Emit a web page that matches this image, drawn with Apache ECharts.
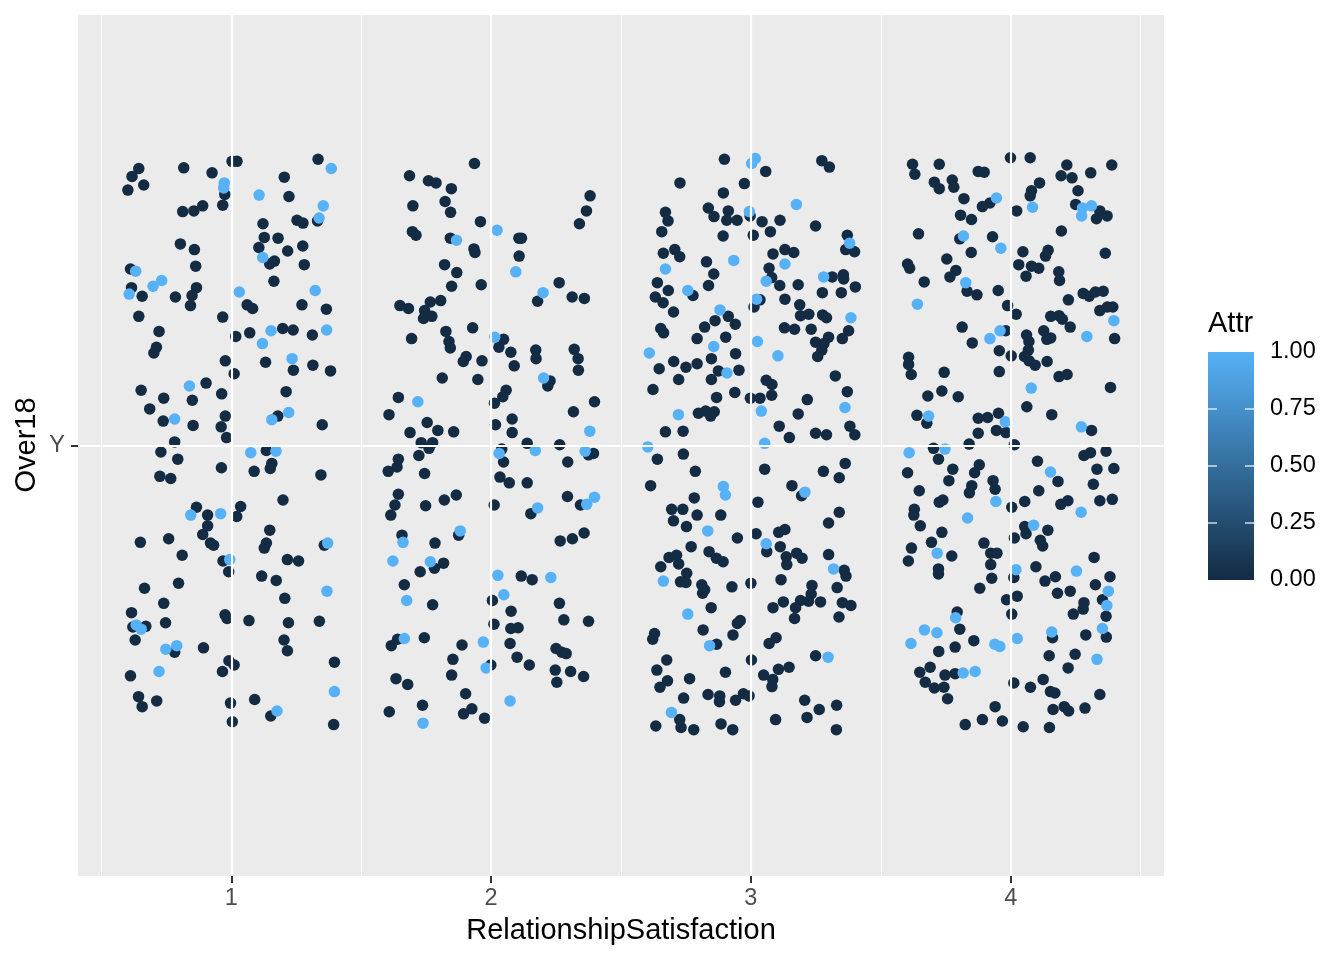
<!DOCTYPE html>
<html><head><meta charset="utf-8">
<script src="https://cdn.jsdelivr.net/npm/echarts@6/dist/echarts.min.js"></script>
<style>html,body{margin:0;padding:0;background:#fff}#chart{width:1344px;height:960px}</style>
</head><body><div id="chart"></div>
<script>
// ---- axes / labels ----
const xTicks = [1, 2, 3, 4];
const xMinorBreaks = [0.5, 1.5, 2.5, 3.5, 4.5];
const yLevel = 'Y';
const xTitle = 'RelationshipSatisfaction';
const yTitle = 'Over18';
const legendTitle = 'Attr';
const legendTicks = [0, 0.25, 0.5, 0.75, 1];

// ---- jittered points [x, y] ----
const rs1Stayed = [[0.644,1.386],[0.618,1.375],[0.663,1.363],[0.602,1.356],[0.817,1.387],[0.926,1.380],[1.003,1.396],[1.022,1.396],[1.334,1.399],[1.204,1.374],[0.975,1.350],[0.967,1.335],[0.813,1.326],[0.856,1.327],[0.890,1.334],[1.222,1.347],[1.253,1.314],[1.276,1.310],[1.332,1.313],[1.122,1.309],[1.127,1.290],[1.180,1.289],[1.106,1.276],[1.217,1.271],[1.275,1.278],[1.148,1.253],[1.166,1.257],[1.281,1.252],[1.164,1.229],[0.804,1.281],[0.858,1.273],[0.863,1.250],[0.612,1.246],[0.616,1.220],[0.657,1.208],[0.785,1.207],[0.866,1.220],[0.849,1.209],[0.843,1.195],[0.644,1.180],[0.967,1.179],[1.061,1.196],[1.082,1.191],[1.272,1.196],[1.366,1.190],[0.722,1.159],[0.712,1.137],[0.702,1.129],[1.017,1.152],[1.071,1.157],[1.198,1.163],[1.238,1.161],[1.312,1.154],[0.977,1.118],[1.011,1.100],[1.132,1.116],[1.239,1.105],[1.314,1.112],[1.382,1.104],[0.653,1.077],[0.740,1.066],[0.686,1.051],[0.903,1.087],[0.850,1.063],[0.963,1.072],[1.211,1.075],[0.738,1.034],[0.853,1.028],[0.977,1.041],[0.961,1.026],[0.982,1.011],[0.782,1.005],[1.179,1.041],[1.350,1.029],
[0.729,0.991],[0.794,0.981],[1.135,0.993],[1.156,0.975],[1.150,0.968],[0.962,0.969],[1.088,0.964],[0.725,0.957],[0.767,0.954],[1.345,0.959],[1.199,0.924],[0.866,0.914],[0.909,0.903],[1.036,0.915],[1.021,0.901],[0.909,0.888],[0.890,0.876],[0.920,0.864],[0.932,0.861],[1.148,0.882],[1.135,0.864],[1.127,0.857],[0.650,0.865],[0.759,0.870],[0.811,0.847],[1.358,0.861],[0.968,0.839],[0.990,0.824],[1.216,0.841],[1.259,0.839],[1.117,0.818],[1.173,0.812],[0.666,0.801],[0.797,0.808],[1.206,0.787],[0.740,0.780],[0.616,0.767],[0.621,0.747],[0.671,0.748],[0.747,0.753],[0.976,0.764],[0.984,0.759],[1.068,0.756],[1.220,0.753],[1.339,0.755],[0.630,0.729],[1.203,0.729],[1.216,0.714],[0.782,0.712],[0.893,0.718],[0.991,0.700],[1.011,0.694],[0.966,0.685],[1.397,0.698],[0.612,0.679],[0.643,0.650],[0.657,0.636],[0.713,0.644],[0.997,0.641],[1.090,0.646],[1.152,0.623],[1.004,0.615],[1.394,0.611]];
const rs1Left = [[1.385,1.386],[0.973,1.366],[0.971,1.359],[1.107,1.349],[1.354,1.334],[1.338,1.317],[1.121,1.262],[0.632,1.243],[0.607,1.211],[0.699,1.222],[0.732,1.230],[1.031,1.214],[1.323,1.216],[1.153,1.160],[1.120,1.142],[1.367,1.161],[1.234,1.121],[0.839,1.083],[0.782,1.037],[1.156,1.036],[1.221,1.046],
[1.075,0.990],[1.172,0.992],[0.844,0.903],[0.959,0.905],[1.371,0.864],[0.994,0.841],[1.368,0.797],[0.634,0.750],[0.653,0.744],[0.748,0.716],[0.790,0.721],[0.722,0.685],[1.397,0.657],[1.176,0.630]];

const rs2Stayed = [[1.936,1.393],[1.686,1.376],[1.759,1.369],[1.788,1.366],[1.847,1.358],[1.699,1.334],[1.823,1.340],[1.844,1.325],[1.959,1.312],[2.381,1.348],[2.367,1.327],[2.340,1.309],[1.697,1.298],[1.711,1.293],[1.843,1.289],[1.934,1.274],[1.938,1.269],[2.107,1.289],[2.117,1.289],[2.108,1.264],[1.821,1.252],[1.868,1.241],[1.848,1.222],[1.962,1.224],[2.262,1.227],[2.179,1.201],[2.312,1.207],[2.359,1.205],[1.649,1.195],[1.682,1.191],[1.766,1.200],[1.806,1.202],[1.744,1.188],[1.740,1.177],[1.772,1.180],[1.694,1.149],[1.826,1.159],[1.929,1.164],[1.838,1.145],[1.843,1.136],[2.048,1.148],[2.030,1.137],[2.076,1.130],[2.172,1.133],[2.173,1.121],[2.320,1.134],[2.335,1.121],[2.336,1.105],[1.904,1.124],[1.893,1.117],[1.965,1.118],[2.089,1.111],[1.812,1.094],[1.949,1.092],[2.227,1.090],[2.218,1.083],[2.058,1.077],[2.045,1.068],[2.013,1.059],[1.643,1.067],[1.607,1.043],[2.398,1.061],[2.317,1.047],[1.754,1.032],[1.795,1.021],[1.688,1.018],[1.856,1.019],[2.017,1.029],[2.081,1.037],[2.081,1.018],
[1.731,1.004],[1.775,1.004],[1.761,0.996],[1.722,0.986],[1.643,0.981],[1.638,0.970],[1.604,0.964],[1.744,0.961],[2.041,0.995],[2.048,0.977],[2.139,1.003],[2.264,1.001],[2.295,0.977],[2.375,0.987],[2.394,0.989],[2.034,0.956],[2.070,0.948],[2.139,0.948],[1.643,0.932],[1.630,0.917],[1.614,0.903],[1.748,0.916],[1.820,0.924],[1.866,0.931],[2.012,0.917],[2.153,0.905],[2.294,0.929],[2.344,0.917],[1.657,0.875],[1.784,0.864],[1.875,0.875],[2.266,0.867],[2.313,0.870],[2.358,0.878],[1.727,0.824],[1.782,0.829],[1.817,0.836],[1.666,0.806],[1.775,0.778],[2.116,0.818],[2.158,0.813],[2.005,0.784],[2.077,0.769],[2.263,0.780],[2.011,0.751],[2.076,0.745],[2.104,0.746],[2.280,0.757],[2.375,0.755],[1.640,0.730],[1.616,0.721],[1.743,0.732],[1.888,0.722],[2.073,0.724],[1.853,0.702],[1.848,0.680],[1.999,0.694],[2.100,0.705],[2.147,0.694],[2.250,0.717],[2.272,0.712],[2.289,0.710],[2.247,0.687],[2.306,0.685],[2.356,0.678],[2.253,0.670],[1.634,0.675],[1.679,0.667],[1.902,0.654],[1.736,0.638],[1.608,0.629],[1.894,0.626],[1.926,0.633],[1.975,0.620]];
const rs2Left = [[2.023,1.300],[1.867,1.286],[2.095,1.242],[2.200,1.213],[2.014,1.151],[2.202,1.094],[1.718,1.061],[2.380,1.020],
[2.031,0.989],[2.170,0.993],[2.362,0.992],[2.179,0.913],[2.398,0.928],[2.368,0.918],[1.661,0.865],[1.881,0.881],[1.622,0.839],[1.766,0.838],[1.675,0.784],[2.026,0.819],[2.230,0.816],[2.049,0.792],[1.666,0.731],[1.970,0.726],[1.981,0.690],[1.738,0.613],[2.073,0.644]];

const rs3Stayed = [[2.898,1.399],[3.057,1.382],[3.273,1.397],[3.302,1.388],[2.727,1.366],[2.975,1.365],[2.894,1.352],[2.671,1.325],[2.681,1.313],[2.657,1.298],[2.836,1.331],[2.858,1.319],[2.913,1.327],[2.907,1.314],[2.947,1.314],[2.997,1.320],[3.043,1.312],[3.112,1.314],[2.893,1.292],[3.009,1.293],[3.075,1.298],[3.249,1.306],[3.371,1.293],[3.365,1.273],[3.399,1.270],[2.663,1.268],[2.707,1.273],[2.726,1.263],[2.829,1.256],[2.857,1.239],[2.837,1.223],[3.085,1.267],[3.131,1.273],[3.165,1.269],[3.070,1.247],[3.080,1.234],[3.111,1.223],[3.182,1.224],[3.313,1.235],[3.356,1.238],[3.357,1.232],[3.402,1.221],[3.275,1.213],[3.348,1.213],[2.640,1.227],[2.682,1.216],[2.777,1.209],[2.632,1.207],[2.662,1.199],[2.702,1.186],[3.035,1.203],[3.012,1.193],[3.131,1.204],[3.188,1.196],[3.191,1.181],[3.223,1.183],[3.276,1.182],[3.291,1.178],[3.376,1.160],[2.913,1.180],[2.940,1.169],[2.862,1.174],[2.822,1.165],[2.653,1.163],[2.664,1.157],[2.793,1.149],[2.903,1.151],[3.129,1.164],[3.168,1.162],[3.232,1.162],[3.299,1.151],[3.249,1.144],[3.281,1.142],[3.273,1.133],[3.257,1.124],[3.352,1.149],[2.647,1.107],[2.703,1.117],[2.750,1.109],[2.793,1.114],[2.848,1.121],[2.941,1.128],[2.875,1.104],[2.954,1.105],[2.848,1.092],[2.722,1.092],[2.623,1.078],[2.868,1.067],[2.938,1.074],[2.998,1.066],[3.035,1.066],[3.059,1.091],[3.081,1.085],[3.080,1.070],[3.325,1.097],[3.371,1.075],[3.217,1.064],[3.182,1.044],[2.798,1.045],[2.826,1.048],[2.859,1.047],[2.845,1.041],[3.109,1.027],[2.671,1.019],[2.739,1.020],[3.381,1.027],[3.400,1.015],[3.148,1.011],[3.249,1.017],[3.291,1.015],
[2.640,0.981],[2.740,0.988],[2.786,0.964],[2.614,0.944],[3.053,0.967],[3.279,0.964],[3.363,0.975],[3.340,0.955],[3.158,0.944],[3.195,0.930],[2.782,0.927],[3.027,0.921],[2.695,0.911],[2.738,0.911],[2.702,0.895],[2.793,0.903],[2.884,0.903],[2.752,0.887],[3.340,0.907],[3.299,0.892],[2.948,0.871],[3.020,0.877],[3.107,0.879],[3.131,0.883],[3.061,0.852],[3.113,0.859],[2.770,0.859],[2.685,0.844],[2.714,0.847],[2.722,0.835],[2.653,0.831],[2.839,0.852],[2.867,0.843],[2.893,0.838],[3.136,0.845],[3.176,0.850],[3.197,0.843],[3.138,0.834],[3.299,0.848],[3.359,0.826],[3.366,0.818],[2.729,0.810],[2.753,0.822],[2.750,0.809],[2.811,0.806],[2.822,0.799],[2.814,0.794],[2.927,0.803],[3.000,0.808],[3.116,0.813],[3.235,0.805],[3.232,0.793],[3.332,0.802],[3.085,0.774],[3.125,0.782],[3.191,0.784],[3.172,0.774],[3.168,0.759],[3.222,0.783],[3.268,0.782],[3.352,0.781],[3.385,0.777],[3.339,0.761],[2.847,0.774],[2.629,0.738],[2.622,0.730],[2.816,0.743],[2.948,0.752],[2.959,0.756],[2.931,0.736],[2.868,0.723],[3.070,0.724],[3.097,0.732],[3.249,0.707],[2.676,0.701],[2.638,0.687],[2.679,0.672],[2.650,0.663],[2.764,0.675],[2.902,0.684],[3.002,0.701],[3.049,0.680],[3.084,0.674],[3.081,0.664],[3.106,0.688],[3.147,0.691],[2.835,0.653],[2.880,0.651],[2.879,0.643],[2.941,0.645],[2.971,0.654],[2.993,0.651],[2.741,0.648],[2.726,0.618],[2.731,0.607],[2.634,0.609],[2.780,0.604],[2.885,0.612],[2.930,0.604],[3.095,0.618],[3.207,0.645],[3.263,0.632],[3.216,0.621],[3.330,0.638],[3.329,0.604]];
const rs3Left = [[3.017,1.400],[3.003,1.393],[3.175,1.336],[2.994,1.326],[3.380,1.282],[2.671,1.246],[2.934,1.258],[3.131,1.253],[3.059,1.229],[3.280,1.235],[2.757,1.216],[3.022,1.204],[3.385,1.178],[2.881,1.189],[2.857,1.138],[3.025,1.145],[3.104,1.125],[2.609,1.129],[2.908,1.101],[3.362,1.053],[3.040,1.048],[2.721,1.043],
[3.053,1.003],[2.603,0.998],[3.208,0.935],[2.894,0.943],[2.902,0.931],[2.834,0.881],[3.059,0.863],[3.318,0.828],[2.663,0.811],[2.757,0.765],[2.841,0.721],[3.297,0.705],[2.694,0.628]];

const rs4Stayed = [[3.622,1.392],[3.631,1.378],[3.725,1.392],[3.875,1.382],[3.898,1.381],[3.999,1.401],[4.075,1.401],[4.216,1.391],[4.194,1.376],[4.236,1.373],[4.308,1.380],[4.389,1.391],[3.706,1.367],[3.725,1.358],[3.775,1.370],[3.781,1.360],[3.820,1.344],[3.920,1.338],[3.891,1.333],[3.807,1.321],[3.849,1.315],[4.023,1.327],[4.111,1.366],[4.080,1.355],[4.075,1.348],[4.259,1.355],[4.250,1.336],[4.343,1.327],[4.330,1.316],[4.371,1.320],[4.195,1.299],[3.645,1.295],[3.804,1.288],[3.930,1.291],[3.848,1.269],[4.047,1.270],[4.144,1.272],[4.134,1.264],[4.364,1.268],[3.603,1.253],[3.611,1.247],[3.754,1.260],[3.789,1.244],[3.766,1.235],[3.667,1.228],[3.832,1.215],[3.870,1.210],[3.952,1.216],[4.031,1.252],[4.080,1.250],[4.108,1.247],[4.059,1.236],[4.185,1.242],[4.188,1.230],[4.279,1.212],[4.302,1.208],[4.326,1.214],[4.356,1.215],[4.222,1.203],[3.988,1.195],[4.021,1.183],[4.154,1.180],[4.186,1.181],[4.199,1.176],[4.229,1.165],[4.343,1.188],[4.372,1.193],[4.393,1.193],[3.813,1.165],[3.852,1.143],[3.981,1.160],[4.127,1.160],[4.061,1.154],[4.070,1.145],[4.139,1.148],[4.154,1.150],[4.400,1.149],[3.956,1.132],[4.002,1.125],[4.068,1.133],[4.053,1.124],[4.071,1.118],[4.094,1.112],[4.140,1.117],[3.607,1.123],[3.607,1.113],[3.617,1.099],[3.744,1.102],[3.956,1.103],[4.186,1.096],[4.217,1.099],[4.384,1.081],[3.681,1.069],[3.735,1.076],[3.798,1.068],[4.062,1.054],[4.158,1.043],[3.639,1.042],[3.677,1.031],[3.875,1.038],[3.911,1.039],[3.953,1.045],[3.945,1.021],[3.982,1.018],[3.875,1.017],[4.311,1.021],
[3.840,1.002],[4.014,1.001],[3.703,0.996],[3.722,0.981],[3.603,0.962],[3.777,0.967],[3.879,0.973],[3.861,0.962],[3.762,0.951],[3.648,0.937],[3.932,0.951],[3.940,0.939],[3.850,0.944],[3.841,0.934],[4.103,0.978],[4.182,0.950],[4.282,0.986],[4.307,0.990],[4.367,0.992],[4.332,0.967],[4.397,0.968],[4.318,0.946],[4.108,0.937],[4.004,0.914],[4.054,0.922],[4.193,0.918],[4.220,0.923],[4.343,0.923],[4.391,0.925],[3.725,0.921],[3.739,0.924],[3.629,0.911],[3.627,0.903],[3.652,0.888],[3.735,0.879],[3.695,0.865],[3.618,0.857],[3.606,0.839],[3.773,0.846],[3.897,0.864],[3.923,0.850],[3.947,0.850],[3.923,0.834],[4.014,0.871],[4.054,0.887],[4.059,0.877],[4.143,0.882],[4.114,0.868],[4.123,0.860],[3.722,0.828],[3.722,0.821],[3.881,0.801],[3.927,0.815],[4.012,0.816],[4.097,0.831],[4.132,0.811],[4.172,0.817],[4.180,0.794],[4.229,0.797],[4.321,0.844],[4.326,0.806],[4.382,0.817],[4.353,0.785],[4.367,0.762],[4.282,0.781],[4.279,0.772],[4.241,0.765],[3.984,0.785],[4.025,0.790],[4.004,0.765],[3.794,0.768],[3.804,0.744],[3.858,0.728],[3.786,0.719],[3.723,0.713],[4.161,0.732],[4.289,0.736],[4.368,0.733],[4.248,0.709],[4.148,0.707],[4.221,0.690],[3.690,0.691],[3.650,0.684],[3.747,0.680],[3.786,0.682],[3.671,0.670],[3.706,0.662],[3.743,0.663],[3.757,0.647],[4.012,0.669],[4.076,0.663],[4.125,0.674],[4.153,0.657],[4.170,0.655],[4.343,0.653],[3.940,0.636],[4.163,0.632],[4.206,0.636],[4.223,0.630],[4.286,0.634],[3.825,0.611],[3.891,0.618],[3.968,0.616],[4.048,0.608],[4.149,0.607]];
const rs4Left = [[3.945,1.345],[4.084,1.332],[4.276,1.331],[4.311,1.334],[4.273,1.320],[3.818,1.292],[3.962,1.275],[3.827,1.227],[3.641,1.197],[4.397,1.174],[3.920,1.149],[3.959,1.160],[4.293,1.152],[4.079,1.080],[3.684,1.041],[3.979,1.033],[4.272,1.026],
[3.609,0.990],[3.747,0.995],[4.153,0.963],[4.271,0.907],[3.943,0.922],[3.834,0.899],[3.717,0.850],[4.088,0.889],[4.020,0.827],[4.253,0.825],[4.376,0.797],[4.370,0.777],[3.788,0.760],[3.668,0.743],[3.716,0.739],[3.616,0.724],[3.939,0.723],[3.958,0.720],[4.025,0.731],[4.158,0.740],[4.353,0.745],[4.332,0.702],[3.817,0.683],[3.863,0.685]];

// ---- build ----
const FONT = 'Liberation Sans, Arial, Helvetica, sans-serif';
const LOW = '#132B43', HIGH = '#56B1F7';
const groups = [[rs1Stayed, rs1Left], [rs2Stayed, rs2Left], [rs3Stayed, rs3Left], [rs4Stayed, rs4Left]];
const points = [];
groups.forEach(([st, lf]) => {
  st.forEach(p => points.push([p[0], p[1], 0]));
  lf.forEach(p => points.push([p[0], p[1], 1]));
});

// colorbar geometry
const barX = 1208, barY = 352, barW = 46, barH = 228;
const legendGraphics = [
  { type: 'text', left: barX, top: 309, style: { text: legendTitle, font: '29px ' + FONT, fill: '#000' } },
  { type: 'rect', shape: { x: barX, y: barY, width: barW, height: barH },
    style: { fill: new echarts.graphic.LinearGradient(0, 0, 0, 1, [{ offset: 0, color: HIGH }, { offset: 1, color: LOW }]) } }
];
legendTicks.forEach(t => {
  const y = barY + barH * (1 - t);
  if (t > 0 && t < 1) {
    legendGraphics.push({ type: 'line', shape: { x1: barX, y1: y, x2: barX + 9, y2: y }, style: { stroke: '#fff', lineWidth: 1.2 } });
    legendGraphics.push({ type: 'line', shape: { x1: barX + barW - 9, y1: y, x2: barX + barW, y2: y }, style: { stroke: '#fff', lineWidth: 1.2 } });
  }
  legendGraphics.push({ type: 'text', x: 1270, y: y, style: { text: t.toFixed(2), font: '23.5px ' + FONT, fill: '#000', verticalAlign: 'middle' } });
});

const gridLines = [];
xMinorBreaks.forEach(v => gridLines.push({ xAxis: v, lineStyle: { width: 1.1 } }));
xTicks.forEach(v => gridLines.push({ xAxis: v, lineStyle: { width: 2.2 } }));
gridLines.push({ yAxis: 1, lineStyle: { width: 2.2 } });

const chart = echarts.init(document.getElementById('chart'), null, { renderer: 'canvas' });
chart.setOption({
  animation: false,
  backgroundColor: '#fff',
  grid: { left: 78, right: 180, top: 15, bottom: 84, show: true, backgroundColor: '#EBEBEB', borderWidth: 0 },
  xAxis: {
    type: 'value', min: 0.41, max: 4.59,
    axisLine: { show: false }, splitLine: { show: false },
    axisTick: { show: true, customValues: xTicks, length: 7, lineStyle: { color: '#333', width: 2 } },
    axisLabel: { customValues: xTicks, margin: 11, fontSize: 23.5, color: '#4D4D4D', fontFamily: FONT,
      formatter: v => String(v) }
  },
  yAxis: {
    type: 'value', min: 0.4, max: 1.6,
    axisLine: { show: false }, splitLine: { show: false },
    axisTick: { show: true, customValues: [1], length: 7, lineStyle: { color: '#333', width: 2 } },
    axisLabel: { customValues: [1], margin: 13, fontSize: 23.5, color: '#4D4D4D', fontFamily: FONT,
      formatter: v => (Math.abs(v - 1) < 1e-9 ? yLevel : '') }
  },
  visualMap: { show: false, type: 'continuous', min: 0, max: 1, dimension: 2, seriesIndex: 1,
    inRange: { color: [LOW, HIGH] } },
  series: [
    { type: 'scatter', data: [], z: 1, silent: true,
      markLine: { silent: true, symbol: 'none', label: { show: false }, animation: false,
        lineStyle: { color: '#fff', type: 'solid' }, data: gridLines } },
    { type: 'scatter', data: points, symbol: 'circle', symbolSize: 11.5, z: 3,
      itemStyle: { opacity: 1, borderWidth: 0 } }
  ],
  graphic: [
    { type: 'text', x: 621, y: 931, style: { text: xTitle, font: '29px ' + FONT, fill: '#000', align: 'center', verticalAlign: 'middle' } },
    { type: 'text', x: 27, y: 445, rotation: Math.PI / 2, style: { text: yTitle, font: '29px ' + FONT, fill: '#000', align: 'center', verticalAlign: 'middle' } }
  ].concat(legendGraphics)
});
</script></body></html>
